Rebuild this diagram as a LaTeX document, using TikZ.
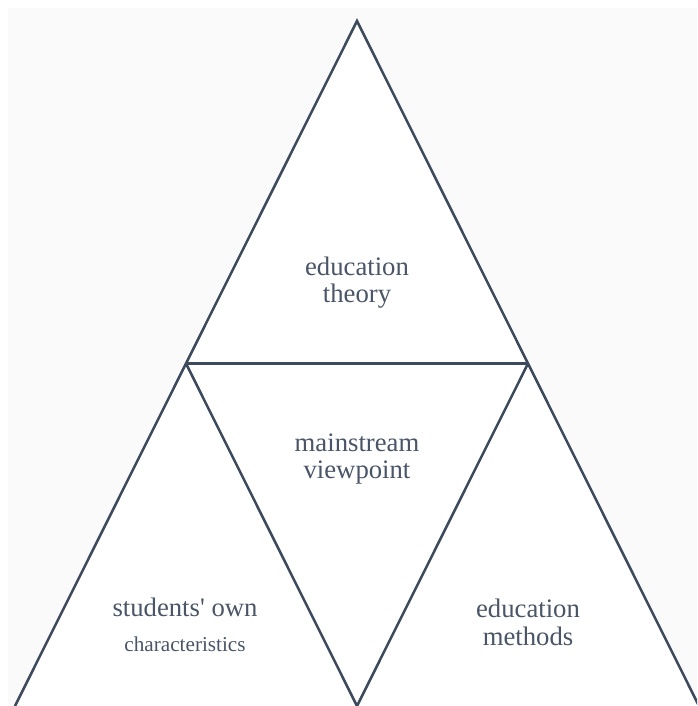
\documentclass[tikz,border=0pt]{standalone}
\usepackage{fontspec}
\setmainfont{Liberation Serif}
\usepackage{xcolor}
\usepackage{tikz}
\usetikzlibrary{calc}
\definecolor{slateline}{HTML}{3D4A5C}
\definecolor{slatetext}{HTML}{4A5568}
\definecolor{paper}{HTML}{FAFAFA}
\tikzset{
	edge line/.style={line width=2.5pt,slateline,line join=miter},
	label text/.style={text=slatetext,align=center,inner sep=0pt,font=\fontsize{26.7}{27.5}\selectfont}
}

\begin{document}
\begin{tikzpicture}[x=1pt,y=-1pt]
	\useasboundingbox (0,0) rectangle (697,706);
	\clip (0,0) rectangle (697,706);
	\fill[paper] (8,8) rectangle (697,706);
	\coordinate (top) at (357,21);
	\coordinate (base left) at (15,706);
	\coordinate (base right) at (699,706);
	\coordinate (base mid) at ($(base left)!0.5!(base right)$);
	\coordinate (side left) at ($(top)!0.5!(base left)$);
	\coordinate (side right) at ($(top)!0.5!(base right)$);
	\fill[white] (top) -- (base left) -- (base right) -- cycle;
	\draw[edge line] (base left) -- (top) -- (base right);
	\draw[edge line] (side left) -- (side right);
	\draw[edge line] (side left) -- (base mid) -- (side right);
	\node[label text] (theory) at (357,282.4) {education\\theory};
	\node[label text] (viewpoint) at (357,459) {mainstream\\viewpoint};
	\node[label text] (own) at (185,624.5) {students\textquotesingle{} own\\[7.5pt]{\fontsize{21.2}{21.2}\selectfont characteristics}};
	\node[label text] (methods) at (528,622.5) {education\\methods};
\end{tikzpicture}
\end{document}
